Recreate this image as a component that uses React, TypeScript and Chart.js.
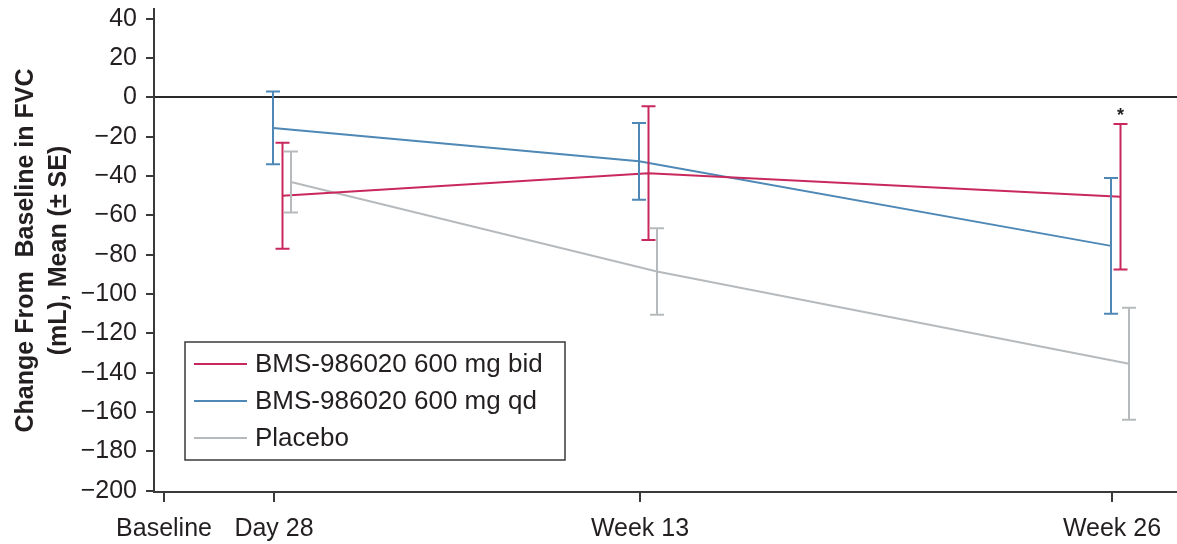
import React, { useEffect, useRef } from 'react';
import { Chart, registerables } from 'chart.js';

Chart.register(...registerables);

// ---- Data ----
const visitLabels = ['Baseline', 'Day 28', 'Week 13', 'Week 26'];
// position of each visit along the (non-uniform) time axis, in axis units
const visitAxisPos = [10, 120, 486, 958];
// visits (indices into visitLabels) at which the series were measured
const measuredVisits = [1, 2, 3];

const bidLabel = 'BMS-986020 600 mg bid';
const bidMean = [-50, -38.5, -50.5];
const bidSE = [27, 34, 37];
const bidSignificance = ['', '', '*'];

const qdLabel = 'BMS-986020 600 mg qd';
const qdMean = [-15.5, -32.5, -75.5];
const qdSE = [18.5, 19.5, 34.5];
const qdSignificance = ['', '', ''];

const placeboLabel = 'Placebo';
const placeboMean = [-43, -88.5, -135.5];
const placeboSE = [15.5, 22, 28.5];
const placeboSignificance = ['', '', ''];

const yTickValues = [40, 20, 0, -20, -40, -60, -80, -100, -120, -140, -160, -180, -200];
const yTitle = ['Change From  Baseline in FVC', '(mL), Mean (\u00b1 SE)'];

// ---- Styles ----
const FONT = "'Liberation Sans', Arial, Helvetica, sans-serif";
const TEXT = '#231f20';
const AXIS = '#3a3a3a';

const seriesDefs = [
  { label: bidLabel, mean: bidMean, se: bidSE, sig: bidSignificance, color: '#c9285c', dodge: 8.5 },
  { label: qdLabel, mean: qdMean, se: qdSE, sig: qdSignificance, color: '#4d88b6', dodge: -1 },
  { label: placeboLabel, mean: placeboMean, se: placeboSE, sig: placeboSignificance, color: '#b7babd', dodge: 17 },
];

const errorBarPlugin = {
  id: 'errorBars',
  afterDatasetsDraw(chart: any) {
    const ctx = chart.ctx;
    const yScale = chart.scales.y;
    chart.data.datasets.forEach((ds: any, i: number) => {
      const meta = chart.getDatasetMeta(i);
      ds.data.forEach((pt: any, j: number) => {
        const el = meta.data[j];
        if (!el) return;
        const x = el.x;
        const yTop = yScale.getPixelForValue(pt.y + ds.se[j]);
        const yBot = yScale.getPixelForValue(pt.y - ds.se[j]);
        ctx.save();
        ctx.strokeStyle = ds.borderColor;
        ctx.lineWidth = 2;
        ctx.beginPath();
        ctx.moveTo(x, yTop);
        ctx.lineTo(x, yBot);
        ctx.moveTo(x - 7, yTop);
        ctx.lineTo(x + 7, yTop);
        ctx.moveTo(x - 7, yBot);
        ctx.lineTo(x + 7, yBot);
        ctx.stroke();
        if (ds.sig[j]) {
          ctx.fillStyle = TEXT;
          ctx.font = `bold 18px ${FONT}`;
          ctx.textAlign = 'center';
          ctx.textBaseline = 'alphabetic';
          ctx.fillText(ds.sig[j], x, yTop - 3);
        }
        ctx.restore();
      });
    });
  },
};

const boxLegendPlugin = {
  id: 'boxLegend',
  afterDraw(chart: any) {
    const ctx = chart.ctx;
    const area = chart.chartArea;
    const left = area.left + 31;
    const top = 342;
    const width = 380;
    const height = 118;
    ctx.save();
    ctx.fillStyle = '#ffffff';
    ctx.fillRect(left, top, width, height);
    ctx.strokeStyle = AXIS;
    ctx.lineWidth = 1.5;
    ctx.strokeRect(left, top, width, height);
    ctx.font = `26px ${FONT}`;
    ctx.textAlign = 'left';
    ctx.textBaseline = 'middle';
    chart.data.datasets.forEach((ds: any, i: number) => {
      const y = top + 22 + i * 37;
      ctx.strokeStyle = ds.borderColor;
      ctx.lineWidth = 2;
      ctx.beginPath();
      ctx.moveTo(left + 9, y);
      ctx.lineTo(left + 62, y);
      ctx.stroke();
      ctx.fillStyle = TEXT;
      ctx.fillText(ds.label, left + 70, y + 1);
    });
    ctx.restore();
  },
};

export default function App() {
  const canvasRef = useRef<HTMLCanvasElement | null>(null);

  useEffect(() => {
    document.body.style.margin = '0';
    const canvas = canvasRef.current;
    if (!canvas) return;

    const datasets = seriesDefs.map((s) => ({
      label: s.label,
      data: measuredVisits.map((v, j) => ({ x: visitAxisPos[v] + s.dodge, y: s.mean[j] })),
      se: s.se,
      sig: s.sig,
      borderColor: s.color,
      backgroundColor: s.color,
      borderWidth: 2,
      pointRadius: 0,
      tension: 0,
      fill: false,
    }));

    const chart = new Chart(canvas, {
      type: 'line',
      data: { datasets } as any,
      options: {
        responsive: false,
        animation: false,
        layout: { padding: { top: 9, right: 0, left: 0, bottom: 0 } },
        plugins: { legend: { display: false }, tooltip: { enabled: false } },
        scales: {
          x: {
            type: 'linear',
            min: 0,
            max: 1023,
            afterBuildTicks: (scale: any) => {
              scale.ticks = visitAxisPos.map((v) => ({ value: v }));
            },
            afterFit: (scale: any) => {
              scale.height = 52;
              scale.paddingLeft = 0;
              scale.paddingRight = 0;
            },
            ticks: {
              autoSkip: false,
              maxRotation: 0,
              padding: 12,
              color: TEXT,
              font: { family: FONT, size: 25 },
              callback: (value: any) => visitLabels[visitAxisPos.indexOf(Number(value))],
            },
            grid: { drawOnChartArea: false, tickLength: 10, tickColor: AXIS, lineWidth: 2 },
            border: { display: true, color: AXIS, width: 2 },
          },
          y: {
            type: 'linear',
            min: -200.7,
            max: 45,
            afterBuildTicks: (scale: any) => {
              scale.ticks = yTickValues.map((v) => ({ value: v }));
            },
            afterFit: (scale: any) => {
              scale.width = 154;
              scale.paddingTop = 0;
              scale.paddingBottom = 0;
            },
            ticks: {
              padding: 9,
              color: TEXT,
              font: { family: FONT, size: 25 },
              callback: (value: any) => String(value).replace('-', '\u2212'),
            },
            grid: {
              drawOnChartArea: true,
              tickLength: 8,
              tickColor: AXIS,
              lineWidth: 2,
              color: (ctx: any) => (ctx.tick && ctx.tick.value === 0 ? '#2a2a2a' : 'rgba(0,0,0,0)'),
            },
            border: { display: true, color: AXIS, width: 2 },
            title: {
              display: true,
              text: yTitle,
              color: TEXT,
              font: { family: FONT, size: 25, weight: 'bold', lineHeight: 1.3 },
              padding: { top: 10, bottom: 0 },
            },
          },
        },
      },
      plugins: [errorBarPlugin, boxLegendPlugin],
    });

    return () => chart.destroy();
  }, []);

  return (
    <div style={{ width: 1177, height: 544, background: '#ffffff' }}>
      <canvas ref={canvasRef} width={1177} height={544} />
    </div>
  );
}
